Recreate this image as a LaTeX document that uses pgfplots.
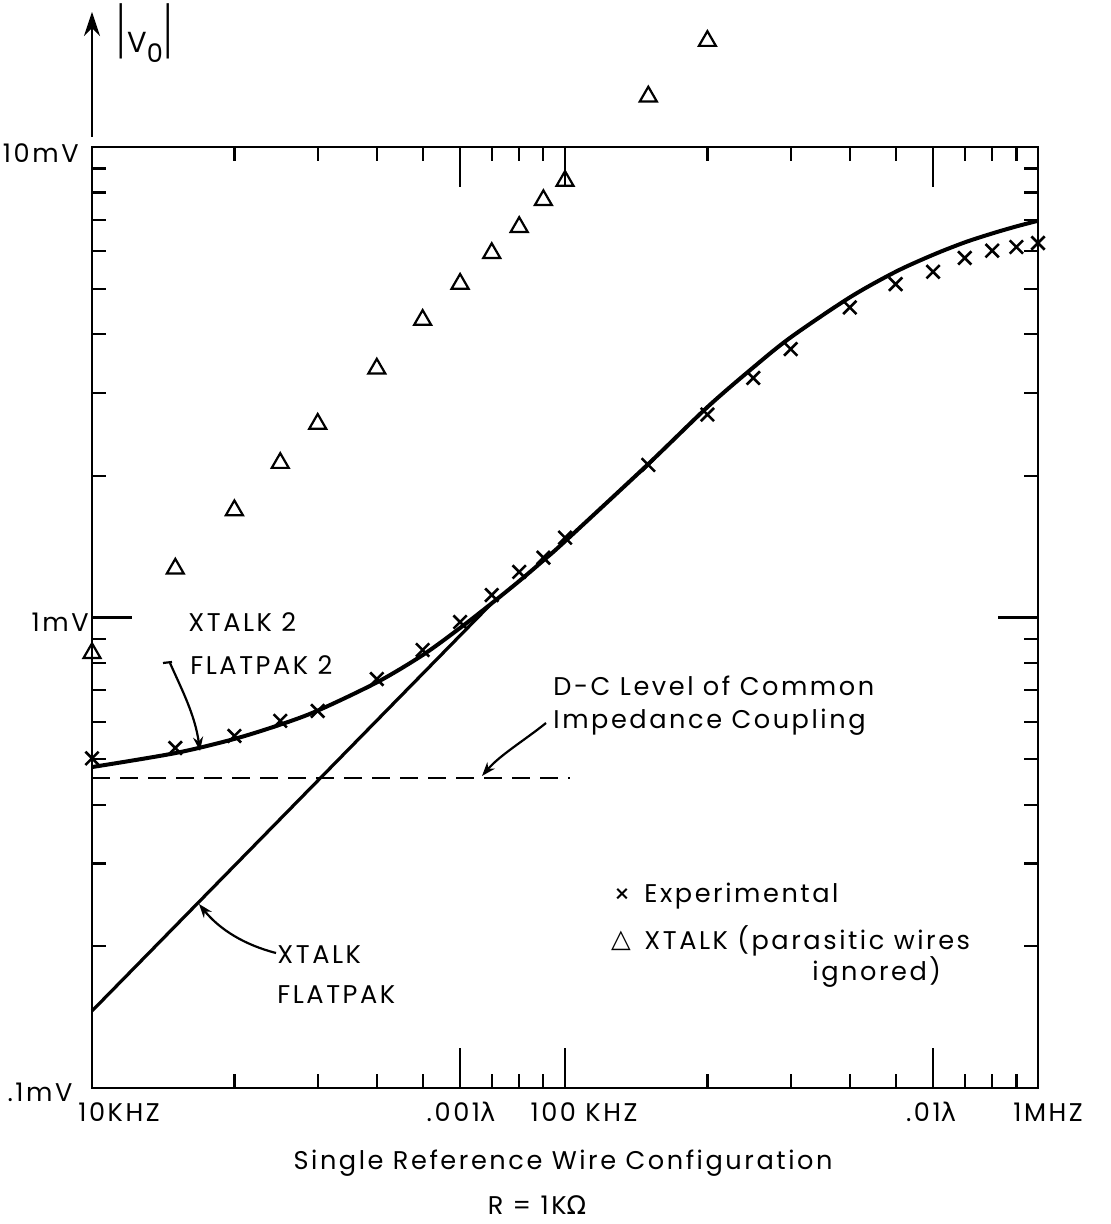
\documentclass[border=0pt]{standalone}
\usepackage{pgfplots}
\pgfplotsset{compat=1.18}
\usepackage{fontspec}
\setmainfont{Poppins}[LetterSpace=10]
\newfontfamily\dejavu{DejaVu Sans}
\usetikzlibrary{arrows.meta}
\newcommand\lab{\fontsize{12.8pt}{15pt}\selectfont}
\begin{document}
\begin{tikzpicture}
\begin{scope}[shift={(-46pt,544pt)}, x=0.5pt, y=-0.5pt]
\useasboundingbox (0,0) rectangle (1110,1224);
\end{scope}
\begin{axis}[
  at={(0,0)}, anchor=south west,
  scale only axis, width=473pt, height=470.5pt,
  xmode=log, ymode=log, xmin=1e4, xmax=1e6, ymin=0.1, ymax=10,
  xtick={1e4,1e5,1e6}, ytick={0.1,1,10},
  xticklabels={}, yticklabels={},
  extra x ticks={6e4,6e5}, extra x tick labels={},
  tick pos=both, tick align=inside,
  major tick length=20pt, minor tick length=7pt,
  every tick/.style={black, line width=1.1pt},
  axis line style={line width=1.2pt},
  clip=false,
]
% Experimental (crosses)
\addplot[only marks, mark=x, mark size=4.7pt, mark options={line width=1.3pt}] coordinates {
(1e4,0.502) (1.5e4,0.528) (2e4,0.560) (2.5e4,0.603) (3e4,0.633) (4e4,0.740)
(5e4,0.853) (6e4,0.978) (7e4,1.116) (8e4,1.25) (9e4,1.340) (1e5,1.478)
(1.5e5,2.11) (2e5,2.70) (2.5e5,3.23) (3e5,3.72) (4e5,4.56) (5e5,5.11)
(6e5,5.43) (7e5,5.81) (8e5,6.02) (9e5,6.13) (1e6,6.25)
};
% XTALK, parasitic wires ignored (triangles)
\addplot[only marks, mark=triangle, mark size=4.9pt, mark options={line width=1.1pt, fill=none}] coordinates {
(1e4,0.840) (1.5e4,1.27) (2e4,1.69) (2.5e4,2.13) (3e4,2.58) (4e4,3.38)
(5e4,4.29) (6e4,5.12) (7e4,5.95) (8e4,6.76) (9e4,7.71) (1e5,8.47)
(1.5e5,12.8) (2e5,16.8)
};
% XTALK 2 / FLATPAK 2
\addplot[smooth, line width=2pt] coordinates {
(1e4,0.481) (1.5e4,0.515) (2e4,0.552) (2.5e4,0.592) (3e4,0.634) (4e4,0.728)
(5e4,0.832) (6e4,0.950) (7e4,1.072) (8e4,1.195) (9e4,1.322) (1e5,1.452)
(1.5e5,2.12) (2e5,2.80) (2.5e5,3.40) (3e5,3.94) (4e5,4.79) (5e5,5.43)
(6e5,5.90) (7e5,6.27) (8e5,6.55) (9e5,6.78) (1e6,6.97)
};
% XTALK / FLATPAK
\addplot[line width=1.6pt] coordinates {(1e4,0.1458) (7e4,1.072)};
% D-C level
\addplot[line width=1.1pt, dash pattern=on 9pt off 5pt] coordinates {(1e4,0.456) (1.025e5,0.456)};
\end{axis}
\begin{scope}[shift={(-46pt,544pt)}, x=0.5pt, y=-0.5pt, every node/.style={font=\lab, inner sep=0pt}]
% y axis arrow
\draw[line width=1.2pt, -{Stealth[length=12pt,width=8pt]}] (92,137) -- (92,12);
\node at (145,33) {\scalebox{1}[2.4]{|}\hspace{1pt}{\fontsize{14.5pt}{15pt}\selectfont V}\raisebox{-0.75ex}{0}\hspace{1pt}\scalebox{1}[2.4]{|}};
% y labels
\node[anchor=east] at (79,153) {10mV};
\node[anchor=east] at (89,622) {1mV};
\node at (40,1092) {.1mV};
% x labels
\node at (119,1112) {10KHZ};
\node at (461,1112) {.001{\dejavu λ}};
\node at (584,1112) {100 KHZ};
\node at (931,1112) {.01{\dejavu λ}};
\node at (1048,1112) {1MHZ};
\node at (563,1163) {Single Reference Wire Configuration};
\node at (537,1205) {R = 1K{\dejavu Ω}};
% annotations
\node[anchor=west] at (188,622) {XTALK 2};
\node[anchor=west] at (190,665) {FLATPAK 2};
\draw[line width=1.1pt] (163,663) -- (172,662);
\draw[line width=1.1pt, -{Stealth[length=7pt,width=5pt]}] (170,663) .. controls (182,690) and (195,715) .. (200,751);
\node[anchor=west] at (553,686) {D-C Level of Common};
\node[anchor=west] at (553,722) {Impedance Coupling};
\draw[line width=1.1pt, -{Stealth[length=7pt,width=5pt]}] (546,723) .. controls (525,740) and (500,755) .. (482,776);
\node[anchor=west] at (277,955) {XTALK};
\node[anchor=west] at (277,995) {FLATPAK};
\draw[line width=1.1pt, -{Stealth[length=7pt,width=5pt]}] (276,953) .. controls (245,945) and (220,930) .. (199,904);
% legend
\node at (622,896) {×};
\node[anchor=west] at (644,896) {Experimental};
\node at (621,941) {\dejavu △};
\node[anchor=west] at (644,941) {XTALK (parasitic wires};
\node[anchor=west] at (812,972) {ignored)};
\end{scope}
\end{tikzpicture}
\end{document}
